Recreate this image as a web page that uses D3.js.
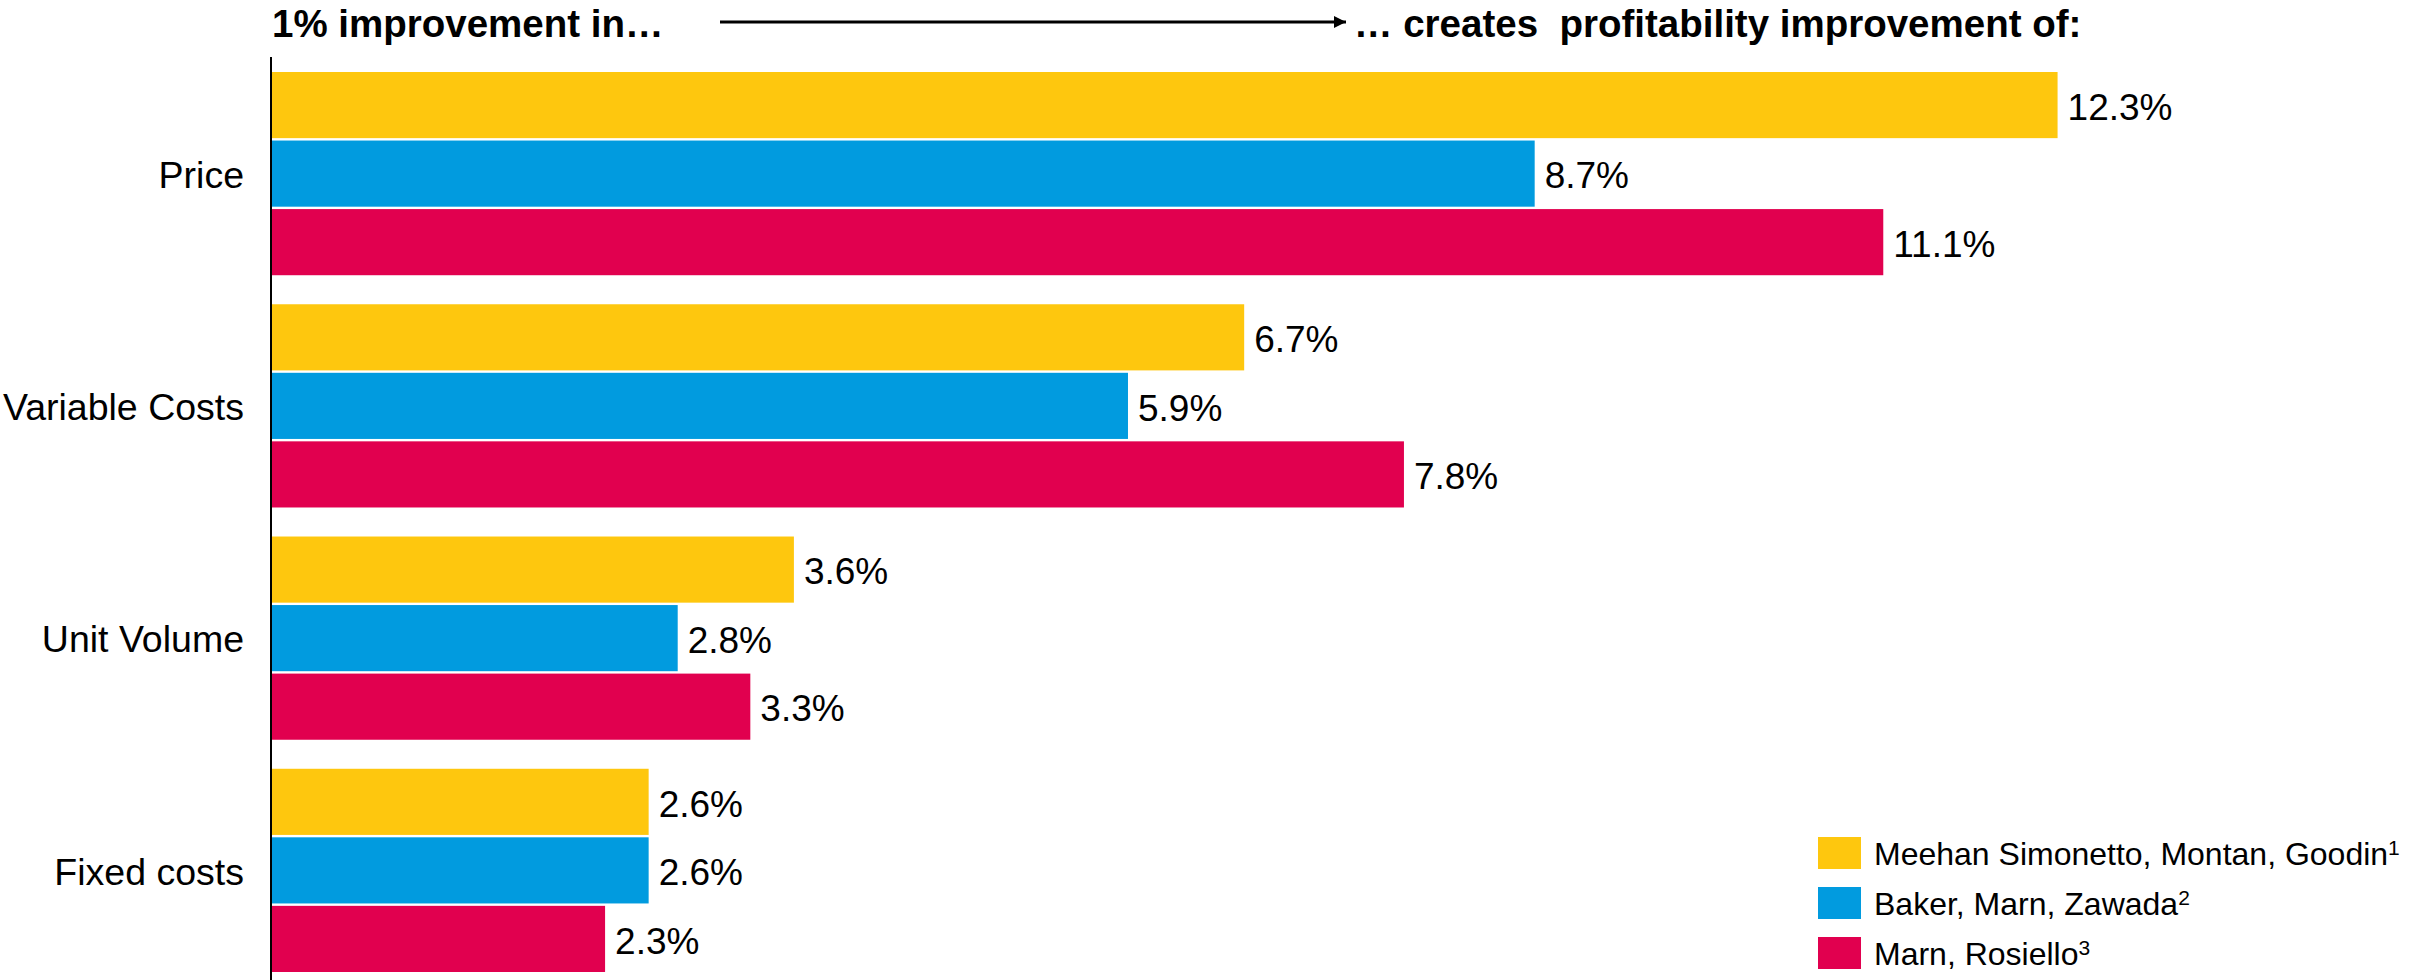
<!DOCTYPE html>
<html>
<head>
<meta charset="utf-8">
<script src="https://cdn.jsdelivr.net/npm/d3@7"></script>
<style>
  html, body { margin: 0; padding: 0; background: #fff; }
  svg { display: block; font-family: "Liberation Sans", Arial, sans-serif; }
</style>
</head>
<body>
<svg id="chart" width="2412" height="980"></svg>
<script>
// Drivers of profitability and the three studies compared
const categories = ["Price", "Variable Costs", "Unit Volume", "Fixed costs"];
const seriesNames = ["Meehan Simonetto, Montan, Goodin", "Baker, Marn, Zawada", "Marn, Rosiello"];
const seriesNotes = ["1", "2", "3"];
const meehanValues = [12.3, 6.7, 3.6, 2.6];
const bakerValues = [8.7, 5.9, 2.8, 2.6];
const marnValues = [11.1, 7.8, 3.3, 2.3];
const seriesColors = ["#FEC70E", "#019BDF", "#E1004F"];
const headerLeft = "1% improvement in…";
const headerRight = "… creates  profitability improvement of:";

const seriesValues = [meehanValues, bakerValues, marnValues];
const rows = categories.map((c, i) => ({
  category: c,
  values: seriesValues.map((vals, s) => ({ series: s, value: vals[i] }))
}));

const svg = d3.select("#chart");

const x = d3.scaleLinear().domain([0, 14]).range([271, 271 + 14 * 145.25]);
const y0 = d3.scaleBand().domain(categories).range([72, 972]).paddingInner(0.125).paddingOuter(0);
const y1 = d3.scaleBand().domain(d3.range(seriesNames.length)).range([0, y0.bandwidth()]).paddingInner(0.035);
const color = d3.scaleOrdinal().domain(d3.range(seriesNames.length)).range(seriesColors);

// Bars grouped by category
const groups = svg.append("g").selectAll("g")
  .data(rows)
  .join("g")
  .attr("transform", d => `translate(0,${y0(d.category)})`);

groups.selectAll("rect")
  .data(d => d.values)
  .join("rect")
  .attr("x", x(0))
  .attr("y", d => y1(d.series))
  .attr("width", d => x(d.value) - x(0))
  .attr("height", y1.bandwidth())
  .attr("fill", d => color(d.series));

// Value labels at the bar ends
groups.selectAll("text")
  .data(d => d.values)
  .join("text")
  .attr("x", d => x(d.value) + 10)
  .attr("y", d => y1(d.series) + y1.bandwidth() / 2)
  .attr("dy", "0.4em")
  .attr("font-size", 37)
  .attr("fill", "#000")
  .text(d => d.value.toFixed(1) + "%");

// Category axis
const yAxis = svg.append("g")
  .attr("transform", `translate(${x(0)},0)`)
  .call(d3.axisLeft(y0).tickSize(0).tickPadding(27));
yAxis.select(".domain").remove();
yAxis.selectAll("text")
  .attr("font-size", 37.5)
  .attr("dy", "0.38em")
  .attr("font-family", "'Liberation Sans', Arial, sans-serif")
  .attr("fill", "#000");

svg.append("line")
  .attr("x1", x(0)).attr("x2", x(0))
  .attr("y1", 57).attr("y2", 980)
  .attr("stroke", "#000")
  .attr("stroke-width", 2);

// Header with arrow
svg.append("text")
  .attr("x", 272).attr("y", 37)
  .attr("font-size", 38.5).attr("font-weight", "bold")
  .text(headerLeft);

svg.append("text")
  .attr("x", 1354).attr("y", 37)
  .attr("font-size", 38.5).attr("font-weight", "bold")
  .style("white-space", "pre")
  .text(headerRight);

const defs = svg.append("defs");
defs.append("marker")
  .attr("id", "arrowhead")
  .attr("viewBox", "0 0 10 10")
  .attr("refX", 10).attr("refY", 5)
  .attr("markerWidth", 4).attr("markerHeight", 5.5)
  .attr("markerUnits", "strokeWidth")
  .attr("orient", "auto")
  .append("path")
  .attr("d", "M0,0 L10,5 L0,10 Z")
  .attr("fill", "#000");

svg.append("line")
  .attr("x1", 720).attr("x2", 1346)
  .attr("y1", 22).attr("y2", 22)
  .attr("stroke", "#000")
  .attr("stroke-width", 3)
  .attr("marker-end", "url(#arrowhead)");

// Legend
const legend = svg.append("g").attr("transform", "translate(1818,837)");
const items = legend.selectAll("g")
  .data(seriesNames)
  .join("g")
  .attr("transform", (d, i) => `translate(0,${i * 50})`);

items.append("rect")
  .attr("width", 43).attr("height", 32)
  .attr("fill", (d, i) => color(i));

const labels = items.append("text")
  .attr("x", 56).attr("y", 16)
  .attr("dy", "0.36em")
  .attr("font-size", 32)
  .attr("fill", "#000");
labels.append("tspan").text(d => d);
labels.append("tspan")
  .attr("dy", -10)
  .attr("font-size", 21)
  .text((d, i) => seriesNotes[i]);
</script>
</body>
</html>
